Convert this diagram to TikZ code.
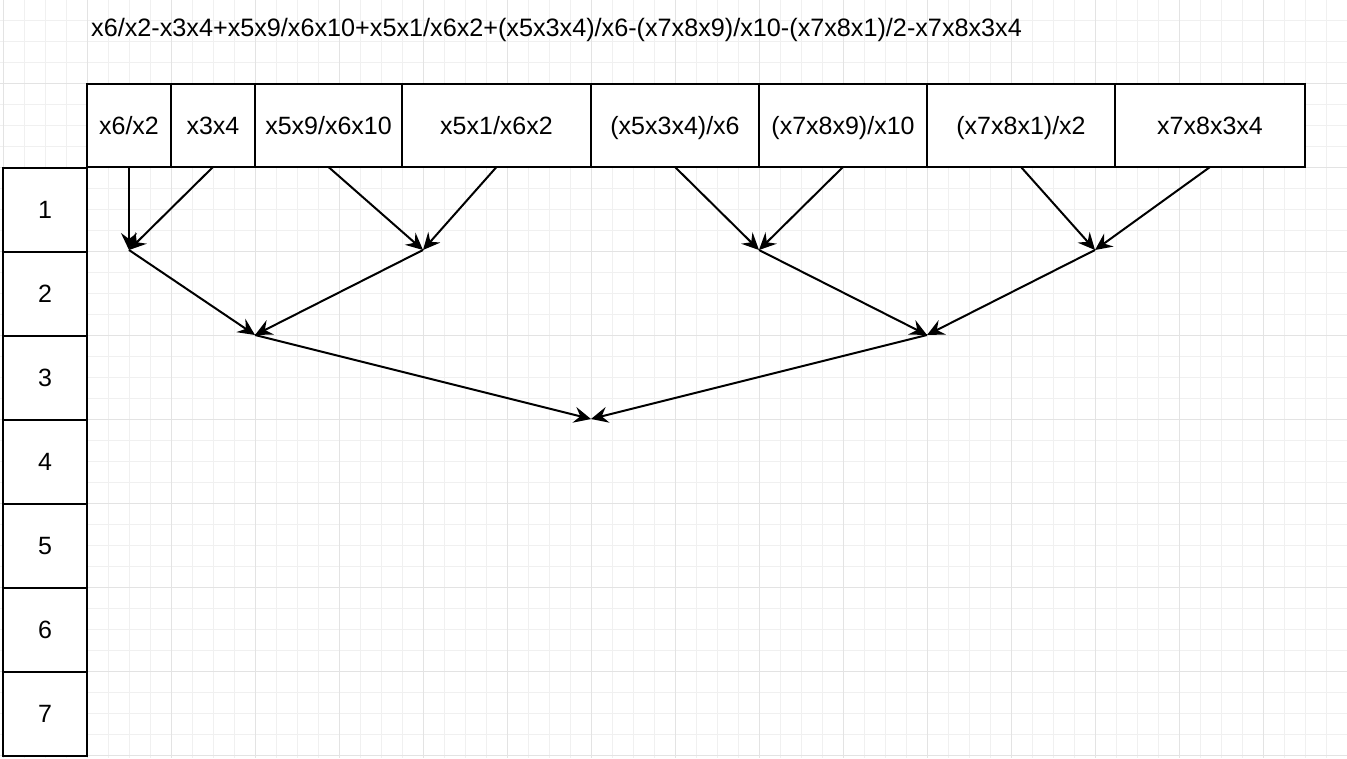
\documentclass[tikz,border=0pt]{standalone}
\usepackage{fontspec}
\setmainfont{Liberation Sans}
\usetikzlibrary{arrows.meta}
\begin{document}
\begin{tikzpicture}[x=1pt,y=-1pt,
  cell/.style={draw=black, line width=2pt, fill=white, anchor=north west, inner sep=0pt, outer sep=0pt, font=\fontsize{25}{30}\selectfont, text height=20pt, text depth=3pt, minimum height=83pt},
  lbl/.style={anchor=west, inner sep=0pt, font=\fontsize{25.2}{30}\selectfont},
  link/.style={line width=2pt, -{Stealth[length=17pt,width=16pt,inset=6pt]}},
  minorgrid/.style={draw=black!6, line width=0.8pt},
  majorgrid/.style={draw=black!11, line width=1pt}]
\useasboundingbox (0,0) rectangle (1347,758);
\fill[white] (0,0) rectangle (1347,758);
% grid
\foreach \i in {0,...,64} { \draw[minorgrid] ({3+21*\i},0) -- ({3+21*\i},758); }
\foreach \j in {0,...,37} { \draw[minorgrid] (0,{-1+21*\j}) -- (1347,{-1+21*\j}); }
\foreach \i in {0,...,16} { \draw[majorgrid] ({3+84*\i},0) -- ({3+84*\i},758); }
\foreach \j in {0,...,9} { \draw[majorgrid] (0,{-1+84*\j}) -- (1347,{-1+84*\j}); }
% title
\node[lbl] (title) at (91,30) {x6/x2-x3x4+x5x9/x6x10+x5x1/x6x2+(x5x3x4)/x6-(x7x8x9)/x10-(x7x8x1)/2-x7x8x3x4};
% top row
\node[cell, minimum width=84pt] (c1) at (87,84) {x6/x2};
\node[cell, minimum width=84pt] (c2) at (171,84) {x3x4};
\node[cell, minimum width=147pt] (c3) at (255,84) {x5x9/x6x10};
\node[cell, minimum width=189pt] (c4) at (402,84) {x5x1/x6x2};
\node[cell, minimum width=168pt] (c5) at (591,84) {(x5x3x4)/x6};
\node[cell, minimum width=168pt] (c6) at (759,84) {(x7x8x9)/x10};
\node[cell, minimum width=188pt] (c7) at (927,84) {(x7x8x1)/x2};
\node[cell, minimum width=190pt] (c8) at (1115,84) {x7x8x3x4};
% left column
\foreach \k in {1,...,7} {
  \node[cell, minimum width=84pt, minimum height=84pt] (r\k) at (3,{168+84*(\k-1)}) {\k};
}
% merge points
\coordinate (m1) at (129,250);
\coordinate (m2) at (423,250);
\coordinate (m3) at (759,250);
\coordinate (m4) at (1095,250);
\coordinate (n1) at (255,335);
\coordinate (n2) at (927,335);
\coordinate (root) at (591,419);
% arrows
\draw[link] (c1.south) -- (m1);
\draw[link] (c2.south) -- (m1);
\draw[link] (c3.south) -- (m2);
\draw[link] (c4.south) -- (m2);
\draw[link] (c5.south) -- (m3);
\draw[link] (c6.south) -- (m3);
\draw[link] (c7.south) -- (m4);
\draw[link] (c8.south) -- (m4);
\draw[link] (m1) -- (n1);
\draw[link] (m2) -- (n1);
\draw[link] (m3) -- (n2);
\draw[link] (m4) -- (n2);
\draw[link] (n1) -- (root);
\draw[link] (n2) -- (root);
\end{tikzpicture}
\end{document}
